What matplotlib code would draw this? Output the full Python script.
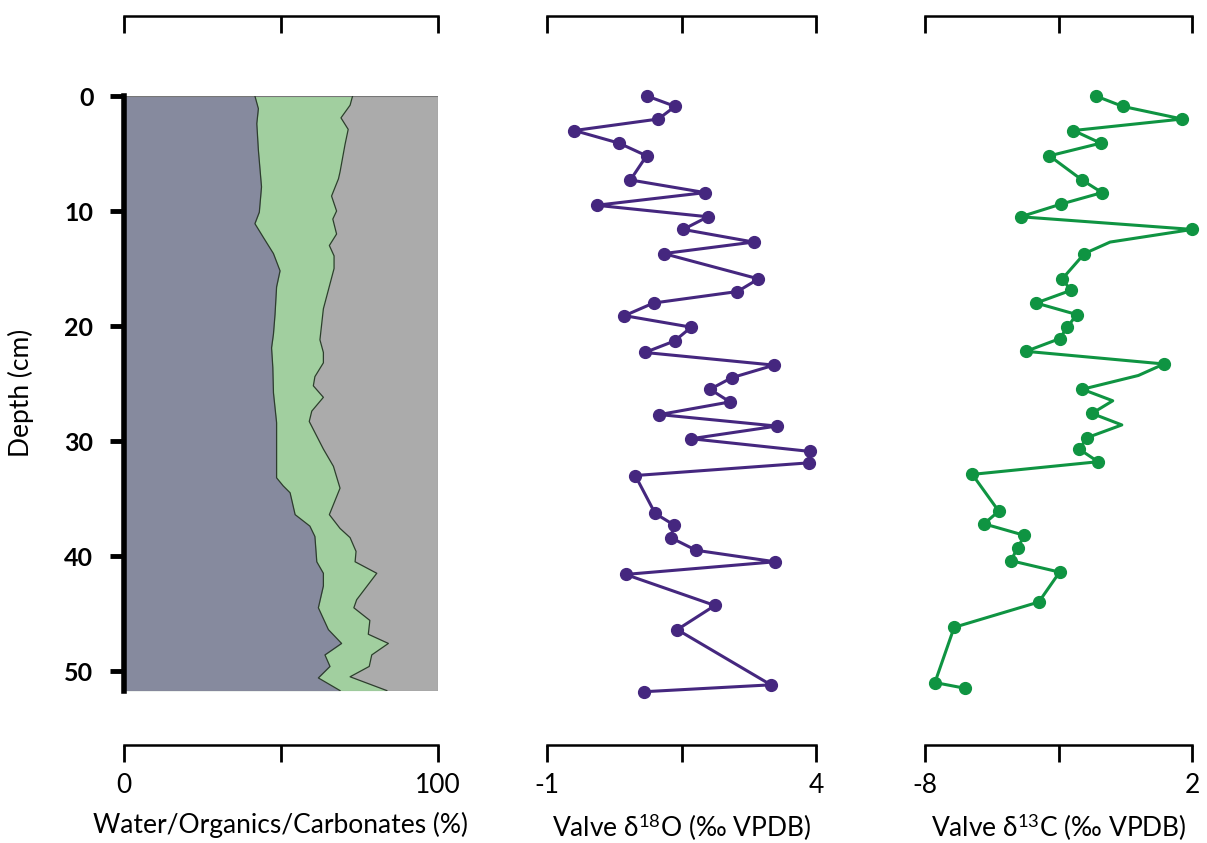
import matplotlib
matplotlib.use('Agg')
import matplotlib.pyplot as plt
from matplotlib.patches import Rectangle

plt.rcParams['font.family'] = ['Lato', 'DejaVu Sans']
plt.rcParams['mathtext.fontset'] = 'custom'
plt.rcParams['mathtext.rm'] = 'Lato'
plt.rcParams['mathtext.it'] = 'Lato:italic'

# --- dados ---
# limite agua / organicos (% acumulado)
water_depth = [0, 1.1, 2.4, 4.7, 7.9, 10.1, 11.1, 12.3, 13.7, 15.2, 16.6, 19.0, 20.7, 21.9, 23.6,
               25.8, 28.4, 33.2, 33.9, 34.5, 36.4, 37.4, 38.3, 40.5, 41.5, 42.6, 44.5, 46.4, 47.6,
               48.6, 49.6, 50.6, 51.7]
water_pct = [41.7, 42.8, 42.3, 42.8, 43.8, 43.1, 41.7, 44.4, 47.6, 49.7, 48.6, 48.1, 47.6, 47.0, 47.4,
             47.6, 48.6, 48.6, 50.7, 52.9, 54.5, 59.2, 60.8, 61.4, 63.5, 63.5, 61.9, 65.1, 69.3,
             64.0, 65.6, 61.9, 68.8]

# limite organicos / carbonatos (% acumulado)
org_depth = [0, 0.8, 1.9, 2.9, 4.2, 6.6, 7.2, 8.7, 10.0, 10.7, 12.0, 13.0, 13.9, 15.0, 18.5,
             21.2, 22.3, 23.2, 24.4, 25.2, 26.2, 27.4, 28.3, 30.7, 32.2, 34.1, 36.4, 37.6, 38.4,
             39.6, 40.5, 41.5, 43.8, 44.5, 45.6, 46.8, 47.6, 48.6, 49.6, 50.5, 51.7]
org_cum = [72.8, 72.0, 69.1, 71.4, 70.4, 68.8, 68.3, 66.1, 67.7, 66.5, 67.7, 65.4, 66.9, 66.9, 63.5,
           62.4, 63.5, 63.5, 60.8, 60.3, 63.5, 59.8, 59.0, 63.5, 66.7, 68.8, 65.4, 68.8, 72.0,
           73.9, 73.6, 80.5, 74.1, 73.2, 78.3, 77.8, 84.2, 78.9, 78.1, 72.0, 83.7]

# d18O
d18o_depth = [0.0, 0.9, 2.0, 3.0, 4.1, 5.2, 7.3, 8.4, 9.5, 10.5, 11.6, 12.7, 13.7, 15.9, 17.0,
              18.0, 19.1, 20.1, 21.3, 22.3, 23.4, 24.5, 25.5, 26.6, 27.7, 28.7, 29.8, 30.9, 31.9,
              33.0, 36.3, 37.3, 38.4, 39.5, 40.5, 41.6, 44.3, 46.4, 51.2, 51.8]
d18o = [0.86, 1.38, 1.07, -0.49, 0.34, 0.85, 0.55, 1.94, -0.08, 1.99, 1.53, 2.84, 1.17, 2.93, 2.54,
        0.98, 0.44, 1.68, 1.37, 0.82, 3.22, 2.43, 2.03, 2.40, 1.09, 3.27, 1.68, 3.88, 3.86,
        0.64, 1.01, 1.36, 1.30, 1.77, 3.24, 0.46, 2.12, 1.42, 3.16, 0.80]

# d13C
d13c_depth = [0.0, 0.9, 2.0, 3.0, 4.1, 5.2, 7.3, 8.4, 9.4, 10.5, 11.6, 12.7, 13.7, 15.9, 16.9,
              18.0, 19.0, 20.1, 21.1, 22.2, 23.3, 24.3, 25.5, 26.5, 27.6, 28.6, 29.7, 30.7, 31.8,
              32.9, 36.1, 37.2, 38.2, 39.3, 40.4, 41.4, 44.0, 46.2, 51.0, 51.5]
d13c = [-1.60, -0.60, 1.63, -2.44, -1.42, -3.34, -2.12, -1.37, -2.91, -4.42, 2.01, -1.07, -2.03,
        -2.86, -2.54, -3.84, -2.32, -2.67, -2.96, -4.22, 0.95, -0.01, -2.11, -0.97, -1.75, -0.63,
        -1.92, -2.23, -1.52, -6.23, -5.24, -5.79, -4.28, -4.53, -4.79, -2.96, -3.74, -6.91,
        -7.63, -6.50]
d13c_sem_marcador = [11, 21, 23, 25]   # vertices da linha sem ponto

depth_ticks = [0, 10, 20, 30, 40, 50]
ymax = 51.7

fig = plt.figure(figsize=(12.07, 8.43), dpi=100)
H = 0.7053
B = 0.1808
ax1 = fig.add_axes([0.1027, B, 0.2602, H])
ax2 = fig.add_axes([0.4532, B, 0.2229, H])
ax3 = fig.add_axes([0.7664, B, 0.2212, H])

TOP_OUT = 57.6
BOT_OUT = 39.2


def eixos_x(ax, lim, ticks, labels, titulo):
    ax.set_xlim(*lim)
    ax.set_ylim(ymax, 0)
    for s in ['top', 'right', 'left']:
        ax.spines[s].set_visible(False)
    ax.spines['bottom'].set_position(('outward', BOT_OUT))
    ax.spines['bottom'].set_linewidth(1.8)
    ax.set_xticks(ticks)
    ax.set_xticklabels(labels)
    ax.tick_params(axis='x', direction='out', length=12, width=2, labelsize=19, pad=8)
    ax.set_xlabel(titulo, fontsize=19, labelpad=10)
    sec = ax.secondary_xaxis('top')
    sec.spines['top'].set_position(('outward', TOP_OUT))
    sec.spines['top'].set_linewidth(1.8)
    sec.set_xticks(ticks)
    sec.tick_params(axis='x', direction='in', length=12, width=2, labeltop=False)
    ax.tick_params(axis='y', left=False, labelleft=False)


# painel 1: agua / organicos / carbonatos
eixos_x(ax1, (0, 100), [0, 50, 100], ['0', '', '100'], 'Water/Organics/Carbonates (%)')
ax1.set_facecolor('#ababab')
ax1.fill_betweenx(org_depth, 0, org_cum, color='#a1cf9f', lw=0)
ax1.fill_betweenx(water_depth, 0, water_pct, color='#868a9e', lw=0)
ax1.plot(org_cum, org_depth, color='#2d3d2d', lw=0.9)
ax1.plot(water_pct, water_depth, color='#2d3d2d', lw=0.9)
ax1.add_patch(Rectangle((0, 0), 100, ymax, fill=False, ec='#777777', lw=0.8))
ax1.spines['left'].set_visible(True)
ax1.spines['left'].set_linewidth(4)
ax1.spines['left'].set_zorder(5)
ax1.set_yticks(depth_ticks)
ax1.tick_params(axis='y', left=True, labelleft=True, direction='out', length=10, width=3.5,
                labelsize=18, pad=12)
for t in ax1.get_yticklabels():
    t.set_fontweight('bold')
ax1.set_ylabel('Depth (cm)', fontsize=19)
ax1.yaxis.set_label_coords(-0.285, 0.5)

# painel 2: d18O
eixos_x(ax2, (-1, 4), [-1, 1.5, 4], ['-1', '', '4'], 'Valve δ$^{\\mathregular{18}}$O (‰ VPDB)')
ax2.plot(d18o, d18o_depth, color='#45277f', lw=2.2, marker='o', ms=8.5, clip_on=False)

# painel 3: d13C
marcadores = [i for i in range(len(d13c)) if i not in d13c_sem_marcador]
eixos_x(ax3, (-8, 2), [-8, -3, 2], ['-8', '', '2'], 'Valve δ$^{\\mathregular{13}}$C (‰ VPDB)')
ax3.plot(d13c, d13c_depth, color='#0f9442', lw=2.2, marker='o', ms=8.5, markevery=marcadores,
         clip_on=False)

fig.savefig('out.png', dpi=100)
